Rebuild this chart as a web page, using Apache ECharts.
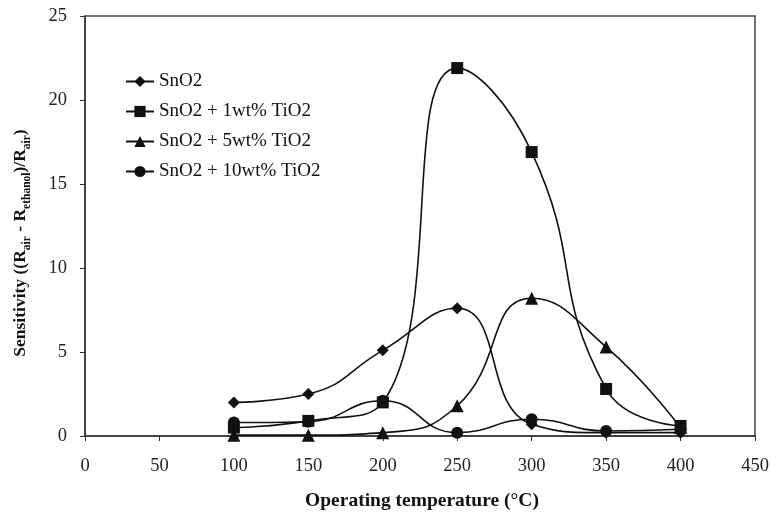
<!DOCTYPE html>
<html><head><meta charset="utf-8">
<script src="https://cdn.jsdelivr.net/npm/echarts@6/dist/echarts.min.js"></script>
<style>html,body{margin:0;padding:0;background:#fff}#c{width:771px;height:513px}</style>
</head><body><div id="c"></div>
<script>
var temps = [100, 150, 200, 250, 300, 350, 400];
var seriesNames = ['SnO2', 'SnO2 + 1wt% TiO2', 'SnO2 + 5wt% TiO2', 'SnO2 + 10wt% TiO2'];
var sno2 = [2.0, 2.5, 5.1, 7.6, 0.7, 0.2, 0.2];
var tio2_1 = [0.5, 0.9, 2.0, 21.9, 16.9, 2.8, 0.6];
var tio2_5 = [0.05, 0.05, 0.2, 1.8, 8.2, 5.3, 0.5];
var tio2_10 = [0.8, 0.85, 2.1, 0.2, 1.0, 0.3, 0.4];
var symbols = ['diamond', 'rect', 'triangle', 'circle'];
var symbolSizes = [12, 12, 13, 12];
var allData = [sno2, tio2_1, tio2_5, tio2_10];

var font = '"Liberation Serif", "Times New Roman", serif';
var chart = echarts.init(document.getElementById('c'));
var series = allData.map(function (vals, i) {
  return {
    name: seriesNames[i], type: 'line', smooth: 0.5,
    data: vals.map(function (v, j) { return [temps[j], v]; }),
    symbol: symbols[i], symbolSize: symbolSizes[i],
    itemStyle: { color: '#111' },
    lineStyle: { color: '#111', width: 1.6 },
    z: 3
  };
});
chart.setOption({
  backgroundColor: '#fff',
  animation: false,
  textStyle: { fontFamily: font, color: '#111' },
  grid: { left: 85, right: 16, top: 16, bottom: 77, show: true, borderColor: '#444', borderWidth: 1.5, containLabel: false, outerBoundsMode: 'none' },
  legend: {
    orient: 'vertical', left: 120, top: 67,
    itemWidth: 28, itemHeight: 14, itemGap: 11,
    textStyle: { fontFamily: font, fontSize: 19, color: '#111' },
    data: seriesNames
  },
  xAxis: {
    type: 'value', min: 0, max: 450, interval: 50,
    name: 'Operating temperature (°C)', nameLocation: 'middle', nameGap: 55,
    nameTextStyle: { fontFamily: font, fontSize: 19.5, fontWeight: 'bold', color: '#111', padding: [0, 0, 0, 4] },
    axisLine: { lineStyle: { color: '#333', width: 1.5 } },
    axisTick: { show: true, length: 5, lineStyle: { color: '#333' } },
    axisLabel: { fontFamily: font, fontSize: 18.5, color: '#222', margin: 21 },
    splitLine: { show: false }
  },
  yAxis: {
    type: 'value', min: 0, max: 25, interval: 5,
    name: '{b|Sensitivity ((R}{s|air}{b| - R}{s|ethanol}{b|)/R}{s|air}{b|)}',
    nameLocation: 'middle', nameGap: 56, nameRotate: 90,
    nameTextStyle: {
      padding: [0, 34, 0, 0],
      rich: {
        b: { fontFamily: font, fontSize: 17.5, fontWeight: 'bold', color: '#111', lineHeight: 24, verticalAlign: 'bottom' },
        s: { fontFamily: font, fontSize: 11.5, fontWeight: 'bold', color: '#111', lineHeight: 24, verticalAlign: 'bottom', padding: [0, 0, -4, 0] }
      }
    },
    axisLine: { show: true, lineStyle: { color: '#333', width: 1.5 } },
    axisTick: { show: true, length: 5, lineStyle: { color: '#333' } },
    axisLabel: { fontFamily: font, fontSize: 18.5, color: '#222', margin: 18 },
    splitLine: { show: false }
  },
  series: series
});
</script></body></html>
